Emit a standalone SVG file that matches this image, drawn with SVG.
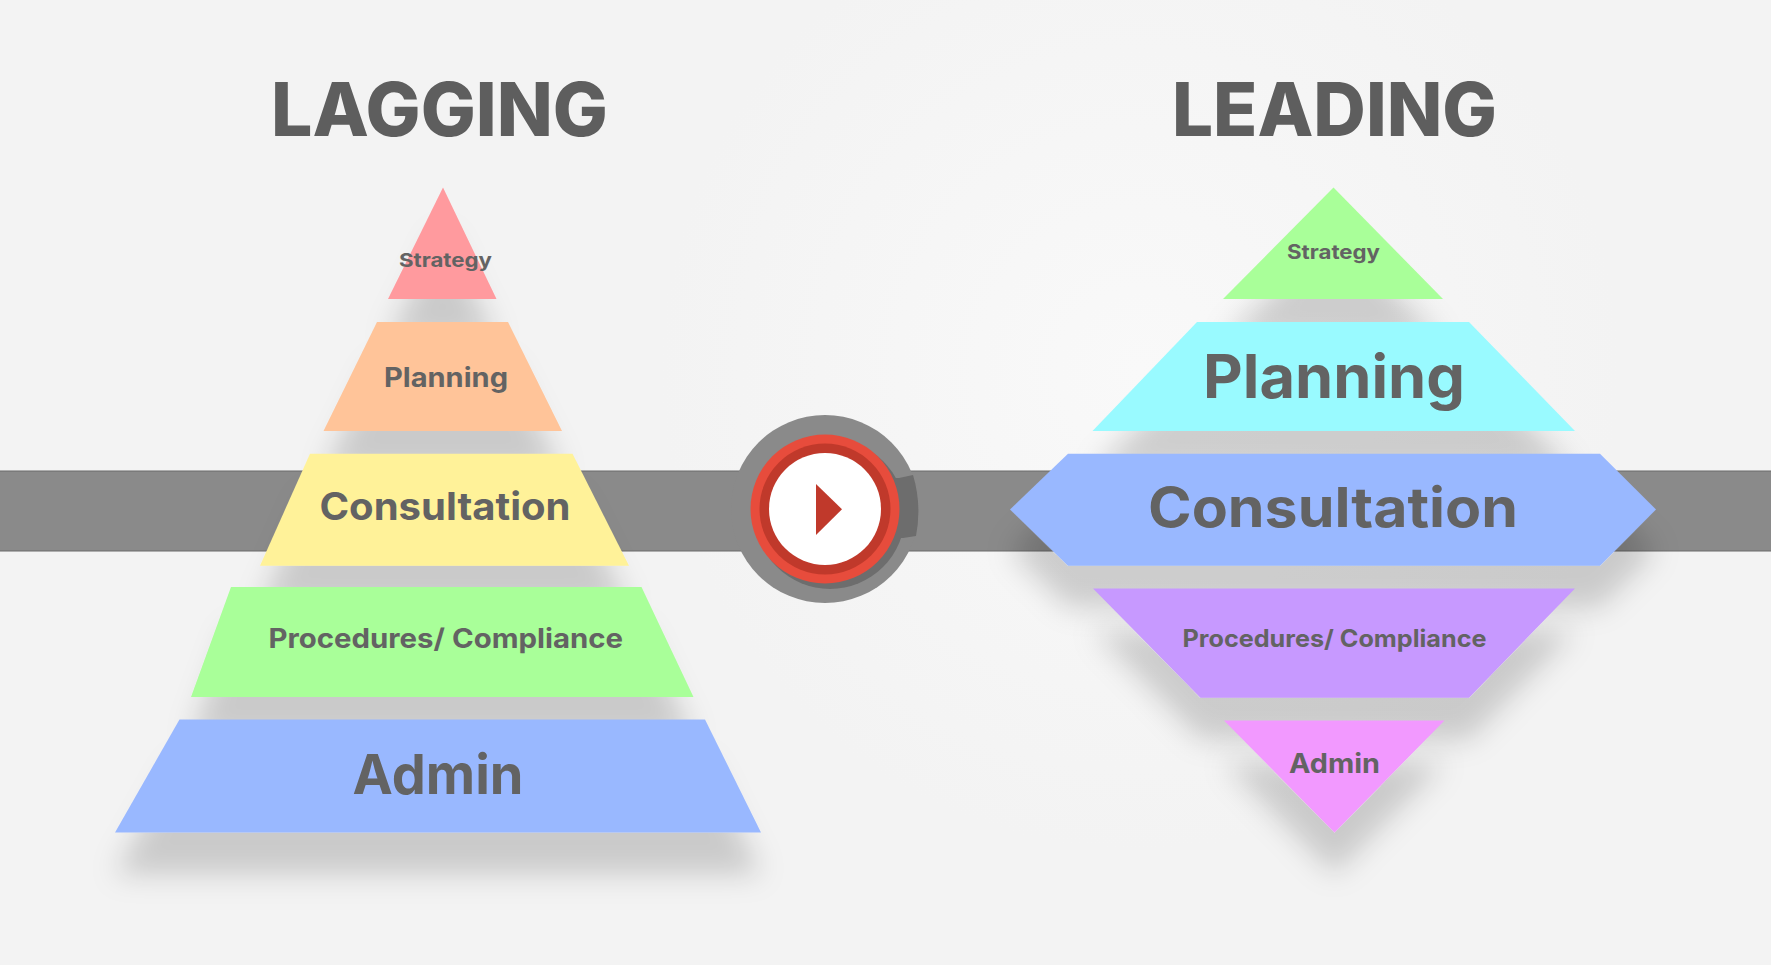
<svg xmlns="http://www.w3.org/2000/svg" width="1771" height="965" viewBox="0 0 1771 965">
<style>
text{font-family:"Inter","Liberation Sans",sans-serif;font-weight:700;fill:#636363;text-anchor:start}
.h{font-weight:800;fill:#5e5e5e}
.s{filter:url(#sh)}
</style>
<defs>
<radialGradient id="bg" gradientUnits="userSpaceOnUse" cx="1140" cy="370" r="480">
<stop offset="0" stop-color="#f9f9f9"/><stop offset="1" stop-color="#f3f3f3"/>
</radialGradient>
<filter id="sh" x="-40%" y="-40%" width="180%" height="260%">
<feDropShadow dx="0" dy="42" stdDeviation="14" flood-color="#000" flood-opacity="0.17"/>
</filter>
</defs>
<rect width="1771" height="965" fill="#f3f3f3"/>
<rect width="1771" height="965" fill="url(#bg)"/>
<g id="connectors">
<rect x="-2" y="471" width="1775" height="80" fill="#8a8a8a" stroke="#6a6a6a" stroke-width="1"/>
</g>
<g id="play">
<circle cx="825" cy="509" r="94" fill="#8a8a8a"/>
<circle cx="830" cy="514" r="75" fill="#6d6d6d"/>
<path d="M899,478 L913,475 Q922,505 916,536 L903,538 L880,538 L880,478 Z" fill="#6d6d6d"/>
<circle cx="825" cy="509" r="74.500" fill="#e74c3c"/>
<circle cx="825" cy="509" r="65.500" fill="#c0392b"/>
<circle cx="825" cy="509" r="56" fill="#fff"/>
<path d="M816,484 L842,509.300 L816,535 Z" fill="#c0392b"/>
</g>
<text id="title-lagging" class="h" x="271" y="136" font-size="74" textLength="337" lengthAdjust="spacingAndGlyphs">LAGGING</text>
<text id="title-leading" class="h" x="1172" y="136" font-size="74" textLength="325" lengthAdjust="spacingAndGlyphs">LEADING</text>
<g id="lag-strategy"><path class="s" d="M443,187.500 L496.500,299 L388,299 Z" fill="#ff9a9e"/><text x="399" y="267" font-size="19" textLength="93" lengthAdjust="spacingAndGlyphs">Strategy</text></g>
<g id="lag-planning"><path class="s" d="M377,322 L508,322 L562,431 L323.500,431 Z" fill="#ffc499"/><text x="384" y="387" font-size="27" textLength="124" lengthAdjust="spacingAndGlyphs">Planning</text></g>
<g id="lag-consultation"><path class="s" d="M310,453.700 L572.500,453.700 L629,565.700 L260,565.700 Z" fill="#fff299"/><text x="319.500" y="520" font-size="38" textLength="251" lengthAdjust="spacingAndGlyphs">Consultation</text></g>
<g id="lag-procedures"><path class="s" d="M231,587 L641.500,587 L693.500,697 L191,697 Z" fill="#a9ff99"/><text x="268.500" y="648" font-size="27" textLength="354.500" lengthAdjust="spacingAndGlyphs">Procedures/ Compliance</text></g>
<g id="lag-admin"><path class="s" d="M179.500,719.500 L705,719.500 L761,832.500 L115,832.500 Z" fill="#99b8ff"/><text x="352.500" y="794" font-size="55" textLength="171" lengthAdjust="spacingAndGlyphs">Admin</text></g>
<g id="lead-strategy"><path class="s" d="M1333.500,187.500 L1443,299 L1223,299 Z" fill="#a9ff99"/><text x="1287" y="259" font-size="20" textLength="93" lengthAdjust="spacingAndGlyphs">Strategy</text></g>
<g id="lead-planning"><path class="s" d="M1197,322 L1469,322 L1575,431 L1092.500,431 Z" fill="#99faff"/><text x="1203" y="397.500" font-size="60" textLength="262" lengthAdjust="spacingAndGlyphs">Planning</text></g>
<g id="lead-consultation"><path class="s" d="M1068,453.700 L1600,453.700 L1656,509.500 L1600,565.700 L1068,565.700 L1010,509.500 Z" fill="#99b8ff"/><text x="1148" y="526.500" font-size="55" textLength="370" lengthAdjust="spacingAndGlyphs">Consultation</text></g>
<g id="lead-procedures"><path class="s" d="M1093,588.500 L1575,588.500 L1469,697.700 L1200.500,697.700 Z" fill="#c799ff"/><text x="1182.500" y="646.500" font-size="24" textLength="304" lengthAdjust="spacingAndGlyphs">Procedures/ Compliance</text></g>
<g id="lead-admin"><path class="s" d="M1224,720.500 L1444.500,720.500 L1334.500,832.500 Z" fill="#f299ff"/><text x="1289" y="773" font-size="27" textLength="91" lengthAdjust="spacingAndGlyphs">Admin</text></g>
</svg>
